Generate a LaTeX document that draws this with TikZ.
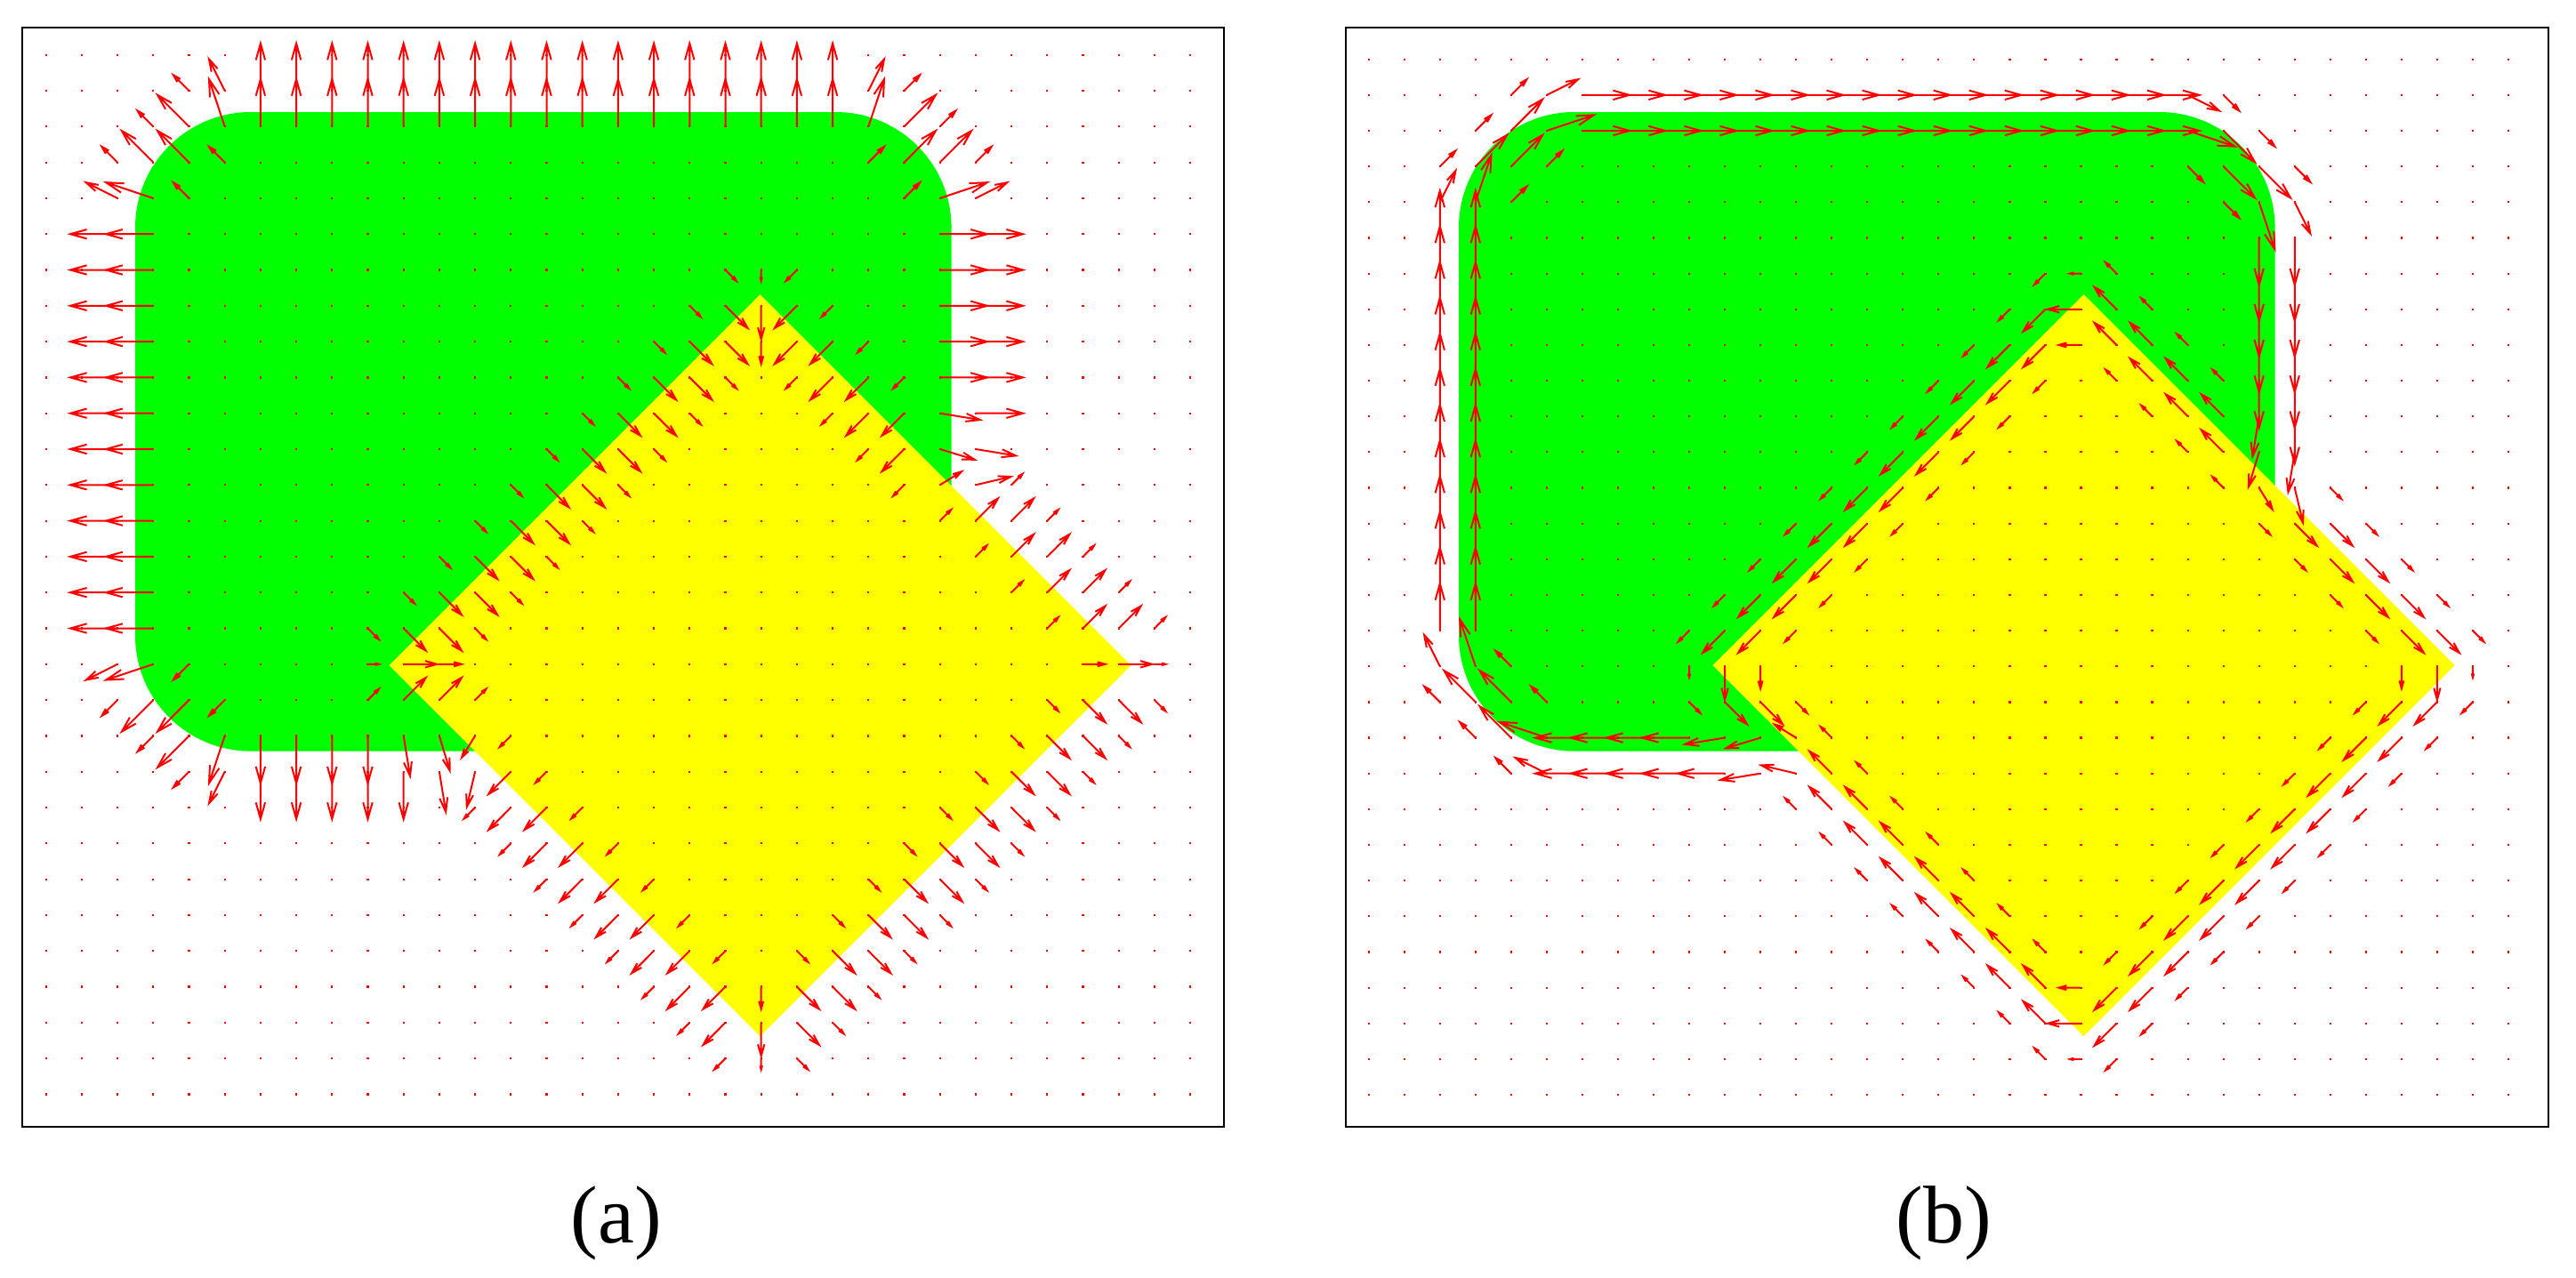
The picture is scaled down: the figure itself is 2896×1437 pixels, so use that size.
\documentclass[tikz,border=0pt]{standalone}
\usepackage{fontspec}
\setmainfont{Liberation Serif}
\definecolor{mgreen}{RGB}{0,255,0}
\definecolor{myellow}{RGB}{255,255,0}
\definecolor{mred}{RGB}{255,0,0}
\tikzset{
  vecline/.style={draw=mred, line width=0.5pt},
  gridmark/.style={fill=mred},
  panelframe/.style={draw=black, line width=0.55pt},
  greenshape/.style={fill=mgreen, rounded corners=32.5pt},
  yellowshape/.style={fill=myellow},
  panellabel/.style={font=\fontsize{23}{28}\selectfont, anchor=base, inner sep=0pt}
}
\newif\ifgreen
\def\iabs#1{(#1)*\ifnum\numexpr#1\relax<0 -\fi1}
\def\greentest#1#2{\greenfalse
  \ifnum#2=2 \ifnum#1>4 \ifnum#1<24 \greentrue\fi\fi\fi
  \ifnum#2=19 \ifnum#1>4 \ifnum#1<24 \greentrue\fi\fi\fi
  \ifnum#2=3 \ifnum#1>3 \ifnum#1<25 \greentrue\fi\fi\fi
  \ifnum#2=18 \ifnum#1>3 \ifnum#1<25 \greentrue\fi\fi\fi
  \ifnum#2>3 \ifnum#2<18 \ifnum#1>2 \ifnum#1<26 \greentrue\fi\fi\fi\fi}
\def\setlab#1#2{%
  \ifnum\numexpr\iabs{#1-20}+\iabs{#2-17}\relax<11
    \expandafter\gdef\csname R@#1@#2\endcsname{1}%
    \expandafter\gdef\csname B@#1@#2\endcsname{0}%
  \else
    \greentest{#1}{#2}%
    \ifgreen
      \expandafter\gdef\csname R@#1@#2\endcsname{0}%
      \expandafter\gdef\csname B@#1@#2\endcsname{0}%
    \else
      \expandafter\gdef\csname R@#1@#2\endcsname{1}%
      \expandafter\gdef\csname B@#1@#2\endcsname{1}%
    \fi
  \fi}
\def\Rv#1#2{\csname R@\number\numexpr#1\relax @\number\numexpr#2\relax\endcsname}
\def\Bv#1#2{\csname B@\number\numexpr#1\relax @\number\numexpr#2\relax\endcsname}
\foreach \i in {-1,...,33}{\foreach \j in {-1,...,30}{\setlab{\i}{\j}}}
\def\drawvec{%
  \edef\gxx{\the\numexpr\gxR*\gxR+\gxB*\gxB\relax}%
  \edef\gyy{\the\numexpr\gyR*\gyR+\gyB*\gyB\relax}%
  \edef\gxy{\the\numexpr\gxR*\gyR+\gxB*\gyB\relax}%
  \edef\sumx{\the\numexpr\gxR+\gxB\relax}%
  \edef\sumy{\the\numexpr\gyR+\gyB\relax}%
  \edef\disc{\the\numexpr(\gxx-\gyy)*(\gxx-\gyy)+4*(\gxy)*(\gxy)\relax}%
  \pgfmathsetmacro\lam{0.5*(\gxx+\gyy+sqrt(\disc))}%
  \ifnum\gxx<\gyy
    \pgfmathsetmacro\eX{\gxy}\pgfmathsetmacro\eY{\lam-\gxx}%
  \else
    \pgfmathsetmacro\eX{\lam-\gyy}\pgfmathsetmacro\eY{\gxy}%
  \fi
  \pgfmathsetmacro\enorm{veclen(\eX,\eY)}%
  \ifdim\enorm pt<0.001pt
    \edef\eX{\sumx}\edef\eY{\sumy}%
    \pgfmathsetmacro\enorm{veclen(\eX,\eY)}%
  \fi
  \pgfmathsetmacro\vdot{(\eX)*(\sumx)+(\eY)*(\sumy)}%
  \ifdim\vdot pt<0pt
    \pgfmathsetmacro\eX{-1*(\eX)}\pgfmathsetmacro\eY{-1*(\eY)}%
  \fi
  \pgfmathsetmacro\vlen{0.311*sqrt(\lam)/\enorm}%
  \pgfmathsetmacro\vu{\vlen*(\eX)}\pgfmathsetmacro\vv{\vlen*(\eY)}%
  % panel (a)
  \pgfmathsetmacro\ua{40.2*(\vu)}\pgfmathsetmacro\va{40.3*(\vv)}%
  \pgfmathsetmacro\bax{-0.35*(\ua+0.28*(\va))}%
  \pgfmathsetmacro\bay{-0.35*(\va-0.28*(\ua))}%
  \pgfmathsetmacro\bbx{-0.35*(\ua-0.28*(\va))}%
  \pgfmathsetmacro\bby{-0.35*(\va+0.28*(\ua))}%
  \draw[vecline] (\Xa,\Ya) -- ++(\ua,\va) coordinate (tipa) ++(\bax,\bay) -- (tipa) -- ++(\bbx,\bby);
  % panel (b): rotated field
  \pgfmathsetmacro\ub{-40.1*(\vv)}\pgfmathsetmacro\vb{40.1*(\vu)}%
  \pgfmathsetmacro\bax{-0.35*(\ub+0.28*(\vb))}%
  \pgfmathsetmacro\bay{-0.35*(\vb-0.28*(\ub))}%
  \pgfmathsetmacro\bbx{-0.35*(\ub-0.28*(\vb))}%
  \pgfmathsetmacro\bby{-0.35*(\vb+0.28*(\ub))}%
  \draw[vecline] (\Xb,\Yb) -- ++(\ub,\vb) coordinate (tipb) ++(\bax,\bay) -- (tipb) -- ++(\bbx,\bby);
}
\begin{document}
\begin{tikzpicture}[x=0.25pt,y=-0.25pt]
\useasboundingbox (0,0) rectangle (2896,1437);
% shapes, panel (a)
\path[greenshape] (152,126) rectangle (1069.6,844.6);
\path[yellowshape] (854.5,331) -- (1271.5,748) -- (854.5,1165) -- (437.5,748) -- cycle;
% shapes, panel (b)
\path[greenshape] (1640,126) rectangle (2557.6,844.6);
\path[yellowshape] (2342.5,331) -- (2759.5,748) -- (2342.5,1165) -- (1925.5,748) -- cycle;
% vector field
\foreach \i in {0,...,32}{\foreach \j in {0,...,29}{
  \pgfmathsetmacro\Xa{51.7+40.2*\i}%
  \pgfmathsetmacro\Ya{61.7+40.3*\j}%
  \pgfmathsetmacro\Xb{1538.7+40.04*\i}%
  \pgfmathsetmacro\Yb{66.7+40.15*\j}%
  \fill[gridmark] (\Xa-1.1,\Ya-1.1) rectangle ++(2.2,2.2);
  \fill[gridmark] (\Xb-1.1,\Yb-1.1) rectangle ++(2.2,2.2);
  \edef\gxR{\the\numexpr\Rv{\i+1}{\j-1}+\Rv{\i+1}{\j}+\Rv{\i+1}{\j+1}-\Rv{\i-1}{\j-1}-\Rv{\i-1}{\j}-\Rv{\i-1}{\j+1}\relax}%
  \edef\gyR{\the\numexpr\Rv{\i-1}{\j+1}+\Rv{\i}{\j+1}+\Rv{\i+1}{\j+1}-\Rv{\i-1}{\j-1}-\Rv{\i}{\j-1}-\Rv{\i+1}{\j-1}\relax}%
  \edef\gxB{\the\numexpr\Bv{\i+1}{\j-1}+\Bv{\i+1}{\j}+\Bv{\i+1}{\j+1}-\Bv{\i-1}{\j-1}-\Bv{\i-1}{\j}-\Bv{\i-1}{\j+1}\relax}%
  \edef\gyB{\the\numexpr\Bv{\i-1}{\j+1}+\Bv{\i}{\j+1}+\Bv{\i+1}{\j+1}-\Bv{\i-1}{\j-1}-\Bv{\i}{\j-1}-\Bv{\i+1}{\j-1}\relax}%
  \ifnum\numexpr\iabs{\gxR}+\iabs{\gyR}+\iabs{\gxB}+\iabs{\gyB}\relax>0
    \drawvec
  \fi
}}
% frames
\draw[panelframe] (25,31) rectangle (1376,1267);
\draw[panelframe] (1513,31) rectangle (2865,1267);
% labels
\node[panellabel] (la) at (693,1397) {(a)};
\node[panellabel] (lb) at (2185,1397) {(b)};
\end{tikzpicture}
\end{document}
